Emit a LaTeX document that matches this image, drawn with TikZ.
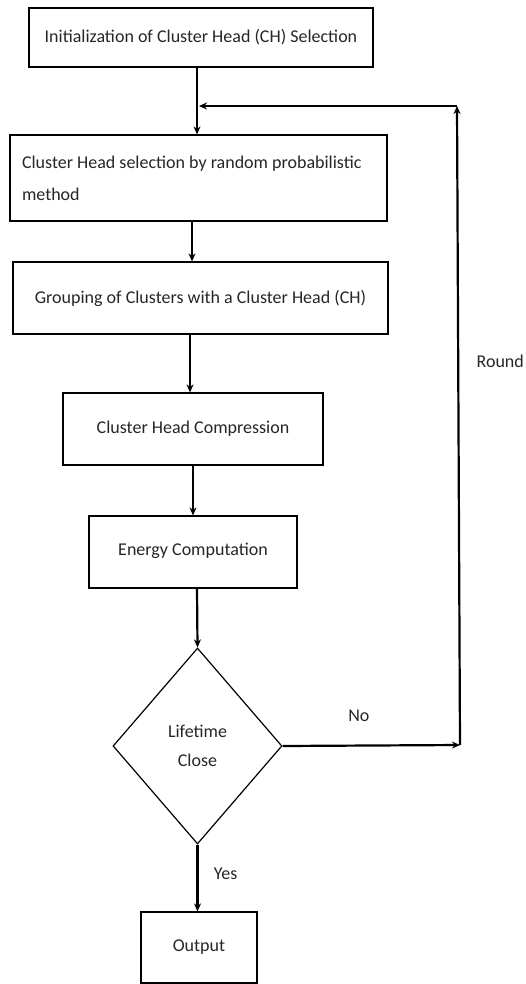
\documentclass[tikz,border=0pt]{standalone}
\usepackage{fontspec}
\setmainfont{Carlito}
\usetikzlibrary{arrows.meta,shapes.geometric}
\tikzset{>={Stealth[length=8pt,width=7pt]}}
\tikzstyle{box}=[draw,line width=1.2pt,rectangle,inner sep=0pt,text=black!85]
\tikzstyle{decision}=[draw,line width=1.2pt,diamond,inner sep=0pt,aspect=0.86,text=black!85,align=center]
\tikzstyle{flow}=[->,line width=2.2pt]
\tikzstyle{lbl}=[text=black!85]

\begin{document}
\begin{tikzpicture}[x=1pt,y=-1pt,font=\fontsize{18}{29}\selectfont]
  \useasboundingbox (0,0) rectangle (526,984);
  % process boxes
  \node[box,minimum width=344pt,minimum height=59pt] (init) at (201,37.5)
    {Initialization of Cluster Head (CH) Selection};
  \node[box,minimum width=377pt,minimum height=86pt,text width=353pt,align=flush left,
    font=\fontsize{18}{32}\selectfont] (select) at (198.5,178)
    {Cluster Head selection by random probabilistic\\method};
  \node[box,minimum width=375pt,minimum height=72pt] (group) at (200.5,298)
    {Grouping of Clusters with a Cluster Head (CH)};
  \node[box,minimum width=260pt,minimum height=72pt] (comp) at (193,429)
    {\raisebox{3pt}{Cluster Head Compression}};
  \node[box,minimum width=208pt,minimum height=72pt] (energy) at (193,552)
    {\raisebox{6pt}{Energy Computation}};
  \node[decision,minimum width=169pt,minimum height=196pt] (life) at (197.5,746)
    {Lifetime\\Close};
  \node[box,minimum width=116pt,minimum height=71pt] (out) at (199,947.5)
    {Output};
  % loop back
  \coordinate (loopR) at (460,745);
  \coordinate (loopT) at (457,106);
  \coordinate (join) at (199,106);
  % main flow
  \draw[flow] ([xshift=-4pt]init.south) -- ([xshift=-4pt]init.south |- select.north);
  \draw[flow] ([xshift=-6.5pt]select.south) -- ([xshift=-6.5pt]select.south |- group.north);
  \draw[flow] ([xshift=-10.5pt]group.south) -- ([xshift=-10.5pt]group.south |- comp.north);
  \draw[flow] (comp.south) -- (comp.south |- energy.north);
  \draw[flow] ([xshift=4pt]energy.south) -- (life.north);
  \draw[flow] (life.south) -- (life.south |- out.north) node[lbl,pos=0.43,right=12pt] {Yes};
  \draw[flow] (life.east) -- (loopR) node[lbl,pos=0.43,above=20pt] {No};
  \draw[flow] (loopR) -- (loopT) node[lbl,pos=0.6,right=14pt] {Round};
  \draw[flow] (loopT) -- (join);
\end{tikzpicture}
\end{document}
